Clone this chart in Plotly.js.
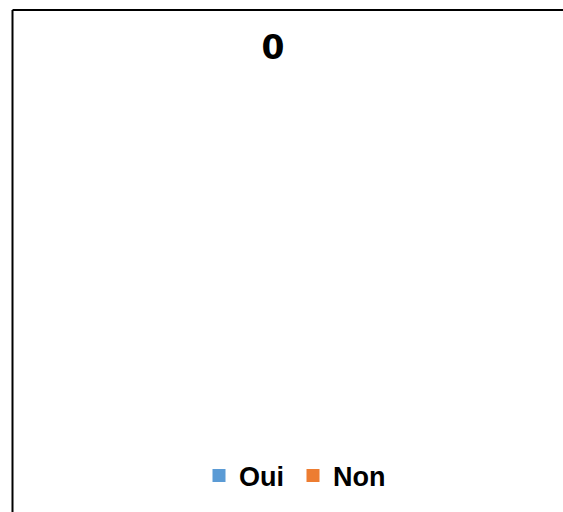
<!DOCTYPE html>
<html>
<head>
<meta charset="utf-8">
<script src="https://cdn.plot.ly/plotly-3.0.1.min.js"></script>
<style>
html,body{margin:0;padding:0;background:#fff;overflow:hidden;}
#chart{width:563px;height:512px;}
</style>
</head>
<body>
<div id="chart"></div>
<script>
const categories = ["Oui", "Non"];
const values = [0, 0];
const colors = ["#5B9BD5", "#ED7D31"];
const chartTitle = "0";

const W = 563, H = 512;

const data = [{
  type: "pie",
  labels: categories,
  values: values,
  marker: {colors: colors},
  sort: false,
  textinfo: "none",
  showlegend: false
}];
// Legend entries (the pie's slices are all zero, so Plotly does not list them)
categories.forEach(function (c, i) {
  data.push({
    type: "scatter",
    mode: "markers",
    name: c,
    x: [null], y: [null],
    marker: {symbol: "square", size: 13, color: colors[i]},
    showlegend: true,
    hoverinfo: "skip"
  });
});

const layout = {
  width: W,
  height: H,
  margin: {l: 0, r: 0, t: 0, b: 0},
  paper_bgcolor: "#ffffff",
  plot_bgcolor: "#ffffff",
  xaxis: {visible: false},
  yaxis: {visible: false},
  title: {
    text: chartTitle,
    font: {family: "DejaVu Sans", size: 33, color: "#000000", weight: "bold"},
    x: 273 / W, xanchor: "center",
    y: 1 - 47 / H, yanchor: "middle",
    xref: "container", yref: "container"
  },
  legend: {
    orientation: "h",
    x: 199 / W, xanchor: "left",
    y: 1 - 476 / H, yanchor: "middle",
    entrywidth: 49, entrywidthmode: "pixels",
    font: {family: "Liberation Sans", size: 27, color: "#000000", weight: "bold"},
    itemclick: false
  },
  shapes: [
    {type: "line", xref: "paper", yref: "paper",
     x0: 12.5 / W, x1: 1.2, y0: 1 - 10 / H, y1: 1 - 10 / H,
     line: {color: "#000000", width: 2}},
    {type: "line", xref: "paper", yref: "paper",
     x0: 12.5 / W, x1: 12.5 / W, y0: -0.2, y1: 1 - 10 / H,
     line: {color: "#000000", width: 2}}
  ]
};

Plotly.newPlot("chart", data, layout, {staticPlot: true, displayModeBar: false});
</script>
</body>
</html>
